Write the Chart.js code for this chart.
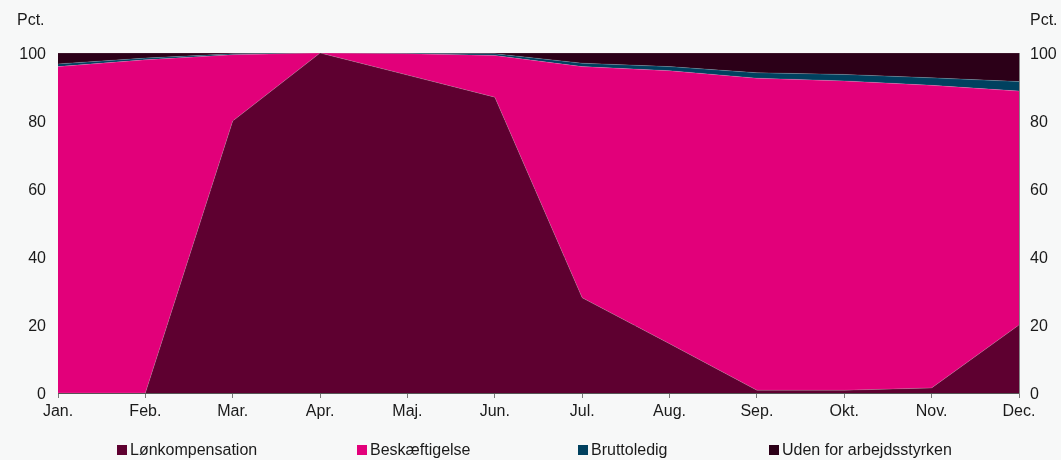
<!DOCTYPE html>
<html>
<head>
<meta charset="utf-8">
<script src="https://cdn.jsdelivr.net/npm/chart.js@4"></script>
<style>
  html, body { margin: 0; padding: 0; background: #f7f8f8; }
  #wrap { position: relative; width: 1061px; height: 460px; }
  #chart { position: absolute; left: 0; top: 0; }
  .leg { position: absolute; top: 440px; font: 16px "Liberation Sans", Arial, sans-serif; color: #1a1a1a; white-space: nowrap; line-height: 20px; }
  .leg i { display: inline-block; width: 10px; height: 10px; margin-right: 3px; vertical-align: 0px; }
</style>
</head>
<body>
<div id="wrap">
  <canvas id="chart" width="1061" height="460"></canvas>
</div>
<script>
const months = ["Jan.", "Feb.", "Mar.", "Apr.", "Maj.", "Jun.", "Jul.", "Aug.", "Sep.", "Okt.", "Nov.", "Dec."];

const loenkomp = [0, 0, 80, 100, 93.5, 87, 28, 14.5, 0.8, 0.8, 1.5, 20];
const beskaeft = [96, 98, 19.5, 0, 6.3, 12.3, 68, 80.3, 91.8, 91, 89, 68.8];
const brutto = [0.8, 0.5, 0.3, 0, 0.1, 0.5, 1, 1.2, 1.6, 1.9, 2.2, 2.8];
const uden = [3.2, 1.5, 0.2, 0, 0.1, 0.2, 3, 4, 5.8, 6.3, 7.3, 8.4];

const seriesNames = ["Lønkompensation", "Beskæftigelse", "Bruttoledig", "Uden for arbejdsstyrken"];
const seriesColors = ["#5e0030", "#e2007a", "#00415f", "#2c0018"];
const legendLeft = [117, 357, 578, 769];

const yTicks = [0, 20, 40, 60, 80, 100];

const FONT = { family: "'Liberation Sans', Arial, sans-serif", size: 16 };
const TXT = "#1a1a1a";

const allSeries = [loenkomp, beskaeft, brutto, uden];
const datasets = allSeries.map((d, i) => ({
  label: seriesNames[i],
  data: d,
  backgroundColor: seriesColors[i],
  borderColor: "rgba(255,255,255,0.2)",
  borderWidth: 0.8,
  pointRadius: 0,
  tension: 0,
  fill: i === 0 ? "origin" : "-1"
}));

// "Pct." above both axes
const unitLabels = {
  id: "unitLabels",
  afterDraw(chart) {
    const ctx = chart.ctx;
    ctx.save();
    ctx.font = "16px " + FONT.family;
    ctx.fillStyle = TXT;
    ctx.textBaseline = "middle";
    ctx.textAlign = "left";
    ctx.fillText("Pct.", 17, 21);
    ctx.fillText("Pct.", 1030, 21);
    ctx.restore();
  }
};

new Chart(document.getElementById("chart"), {
  type: "line",
  data: { labels: months, datasets },
  plugins: [unitLabels],
  options: {
    responsive: false,
    animation: false,
    layout: { padding: { top: 53, bottom: 0, left: 0, right: 0 } },
    plugins: { legend: { display: false }, tooltip: { enabled: false } },
    scales: {
      x: {
        offset: false,
        grid: { drawOnChartArea: false, drawTicks: true, tickLength: 5, color: "#777" },
        border: { color: "#555", width: 1 },
        ticks: { font: FONT, color: TXT, padding: 4, maxRotation: 0, autoSkip: false },
        afterFit(s) { s.height = 67; }
      },
      y: {
        position: "left",
        stacked: true,
        min: 0, max: 100,
        afterBuildTicks(s) { s.ticks = yTicks.map(v => ({ value: v })); },
        grid: { drawTicks: false, color: "#888", lineWidth: 1 },
        border: { display: false },
        ticks: { font: FONT, color: TXT, padding: 12, labelOffset: 2 },
        afterFit(s) { s.width = 58; }
      },
      y2: {
        position: "right",
        min: 0, max: 100,
        afterBuildTicks(s) { s.ticks = yTicks.map(v => ({ value: v })); },
        grid: { display: false, drawTicks: false },
        border: { color: "#888", width: 1 },
        ticks: { font: FONT, color: TXT, padding: 11, labelOffset: 2 },
        afterFit(s) { s.width = 42; }
      }
    }
  }
});

const wrap = document.getElementById("wrap");
seriesNames.forEach((name, i) => {
  const el = document.createElement("div");
  el.className = "leg";
  el.style.left = legendLeft[i] + "px";
  el.innerHTML = `<i style="background:${seriesColors[i]}"></i>${name}`;
  wrap.appendChild(el);
});
</script>
</body>
</html>
